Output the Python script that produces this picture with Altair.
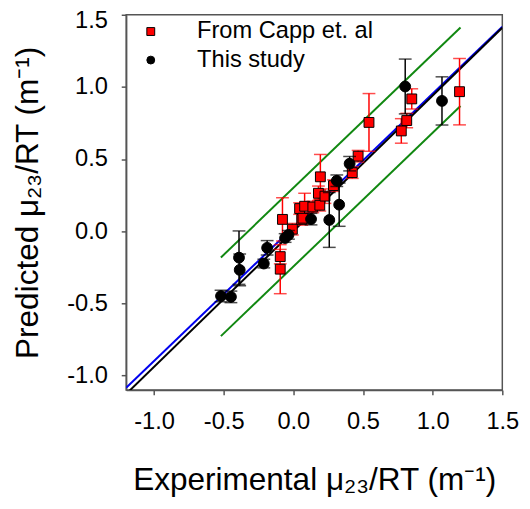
import altair as alt
import pandas as pd

# ---- data ----
capp_x = [-0.094, -0.094, -0.078, -0.007, 0.045, 0.060, 0.069, 0.081, 0.140, 0.190,
          0.180, 0.227, 0.194, 0.288, 0.423, 0.465, 0.543, 0.775, 0.814, 0.850, 1.193]
capp_y = [-0.263, -0.176, 0.082, 0.014, 0.157, 0.082, 0.090, 0.173, 0.168, 0.180,
          0.263, 0.243, 0.377, 0.316, 0.406, 0.520, 0.754, 0.695, 0.767, 0.917, 0.967]
capp_err = [0.17, 0.05, 0.15, 0.04, 0.04, 0.04, 0.04, 0.09, 0.04, 0.04,
            0.05, 0.05, 0.155, 0.04, 0.04, 0.04, 0.20, 0.085, 0.05, 0.07, 0.23]

study_x = [-0.519, -0.448, -0.390, -0.385, -0.212, -0.188, -0.059, -0.035,
           0.127, 0.258, 0.329, 0.312, 0.404, 0.803, 1.067]
study_y = [-0.449, -0.455, -0.183, -0.268, -0.224, -0.115, -0.047, -0.025,
           0.084, 0.078, 0.184, 0.350, 0.468, 1.003, 0.903]
study_err = [0.04, 0.04, 0.185, 0.11, 0.03, 0.05, 0.03, 0.03,
             0.04, 0.19, 0.15, 0.04, 0.05, 0.19, 0.167]

series_names = ["From Capp et. al", "This study"]

fit_names = ["blue", "black"]
fit_slope = [0.927, 0.940]
fit_intercept = [0.027, 0.000]

band_names = ["upper", "lower"]
band_slope = [0.927, 0.927]
band_intercept = [0.300, -0.245]
band_x = [-0.52, 1.20]

x_domain = [-1.2, 1.5]
y_domain = [-1.1, 1.5]
tick_values = [-1.0, -0.5, 0.0, 0.5, 1.0, 1.5]

# ---- tables ----
rows = []
for x, y, e in zip(capp_x, capp_y, capp_err):
    rows.append({"x": x, "y": y, "lo": y - e, "hi": y + e, "series": series_names[0]})
for x, y, e in zip(study_x, study_y, study_err):
    rows.append({"x": x, "y": y, "lo": y - e, "hi": y + e, "series": series_names[1]})
pts = pd.DataFrame(rows)

fit_rows = []
for n, m, b in zip(fit_names, fit_slope, fit_intercept):
    for x in x_domain:
        fit_rows.append({"x": x, "y": m * x + b, "line": n})
fits = pd.DataFrame(fit_rows)

band_rows = []
for n, m, b in zip(band_names, band_slope, band_intercept):
    for x in band_x:
        band_rows.append({"x": x, "y": m * x + b, "line": n})
bands = pd.DataFrame(band_rows)

FONT = "Liberation Sans"
label_expr = "replace(format(datum.value, '.1f'), '\u2212', '-')"

xs = alt.Scale(domain=x_domain, nice=False, zero=False)
ys = alt.Scale(domain=y_domain, nice=False, zero=False)

common = dict(values=tick_values, labelExpr=label_expr, grid=False, tickSize=5,
              labelFontSize=24, titleFontSize=32, labelFont=FONT, titleFont=FONT,
              titleFontWeight="normal", labelColor="black", titleColor="black",
              domainColor="#555", tickColor="#555", domainWidth=1.5, tickWidth=1.5)
x_axis = alt.Axis(title="Experimental μ₂₃/RT (m⁻¹)", labelPadding=15, titlePadding=32,
                  labelFlush=False, **common)
y_axis = alt.Axis(title="Predicted μ₂₃/RT (m⁻¹)", labelPadding=14, titlePadding=23,
                  labelFlush=True, labelFlushOffset=6, **common)

X = alt.X("x:Q", scale=xs, axis=x_axis)
Y = alt.Y("y:Q", scale=ys, axis=y_axis)

band_layer = alt.Chart(bands).mark_line(color="#118811", strokeWidth=2, clip=True).encode(
    x=alt.X("x:Q", scale=xs), y=alt.Y("y:Q", scale=ys), detail="line:N")
blue_layer = alt.Chart(fits).transform_filter("datum.line == 'blue'").mark_line(
    color="#0000ee", strokeWidth=2, clip=True).encode(
    x=alt.X("x:Q", scale=xs), y=alt.Y("y:Q", scale=ys))
black_layer = alt.Chart(fits).transform_filter("datum.line == 'black'").mark_line(
    color="black", strokeWidth=2, clip=True).encode(
    x=alt.X("x:Q", scale=xs), y=alt.Y("y:Q", scale=ys))

def err_layers(name, color):
    base = alt.Chart(pts).transform_filter(alt.datum.series == name)
    stem = base.mark_rule(color=color, strokeWidth=1.5).encode(
        x=alt.X("x:Q", scale=xs), y=alt.Y("lo:Q", scale=ys), y2="hi:Q")
    cap_lo = base.mark_tick(color=color, orient="horizontal", size=13, thickness=1.5).encode(
        x=alt.X("x:Q", scale=xs), y=alt.Y("lo:Q", scale=ys))
    cap_hi = base.mark_tick(color=color, orient="horizontal", size=13, thickness=1.5).encode(
        x=alt.X("x:Q", scale=xs), y=alt.Y("hi:Q", scale=ys))
    return [stem, cap_lo, cap_hi]

color = alt.Color("series:N", scale=alt.Scale(domain=series_names, range=["#ff0000", "black"]),
                  legend=alt.Legend(title=None, orient="none", legendX=13, legendY=5,
                                    padding=0, rowPadding=5, labelOffset=35, labelLimit=0,
                                    labelFontSize=24, labelFont=FONT, labelColor="black",
                                    symbolSize=64, symbolStrokeColor="black",
                                    symbolStrokeWidth=1, symbolOpacity=1))
shape = alt.Shape("series:N", scale=alt.Scale(domain=series_names, range=["square", "circle"]),
                  legend=None)

def point_layer(name, size):
    return alt.Chart(pts).transform_filter(alt.datum.series == name).mark_point(
        filled=True, size=size, stroke="black", strokeWidth=1, opacity=1).encode(
        x=X, y=Y, color=color, shape=shape)

layers = [band_layer, blue_layer, black_layer]
layers += err_layers(series_names[0], "#ff0000")
layers.append(point_layer(series_names[0], 100))
layers += err_layers(series_names[1], "black")
layers.append(point_layer(series_names[1], 121))

chart = alt.layer(*layers).properties(
    width=382, height=381,
    autosize=alt.AutoSizeParams(type="none"),
    padding={"left": 120, "top": 3, "right": 20, "bottom": 115},
).configure_view(stroke="#555", strokeWidth=1.5)

chart.save("out.html", embed_options={"renderer": "svg", "actions": False})
